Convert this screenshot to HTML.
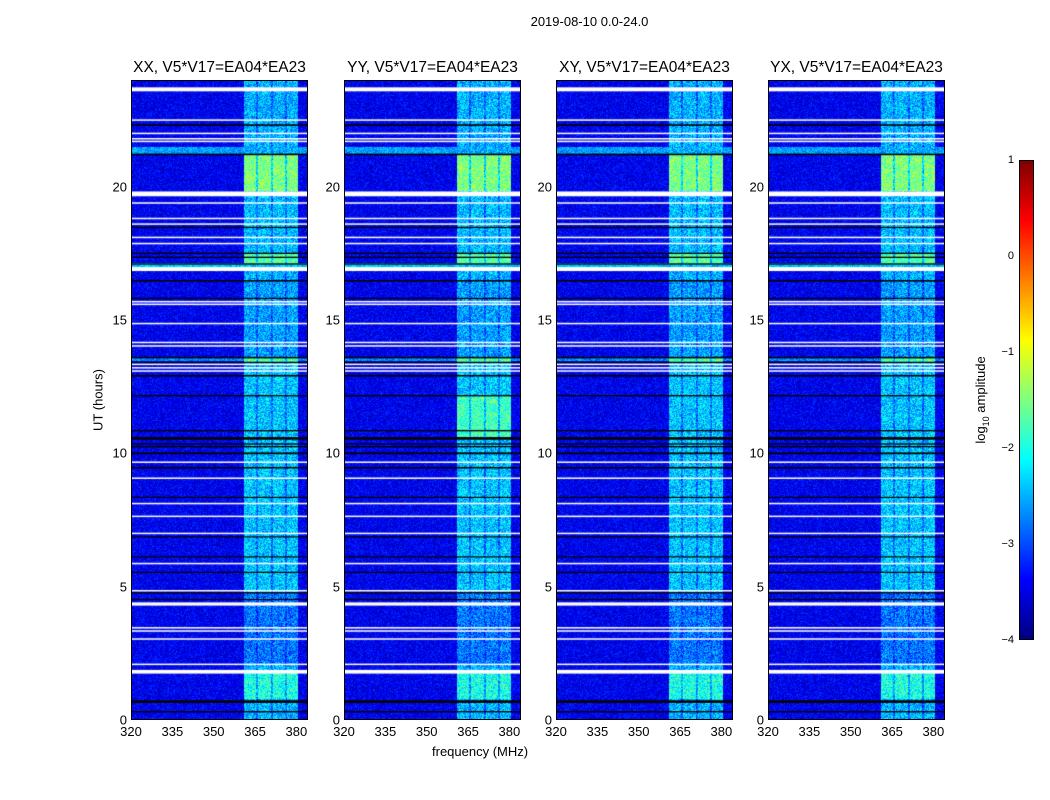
<!DOCTYPE html>
<html><head><meta charset="utf-8"><style>
body{margin:0;background:#fff;font-family:"Liberation Sans",sans-serif;}
#root{position:relative;width:1050px;height:800px;background:#fff;overflow:hidden;}
.t{position:absolute;white-space:nowrap;color:#000;}
canvas{position:absolute;}
.frame{position:absolute;border:1px solid #000;box-sizing:border-box;}
</style></head><body>
<div id="root">
<div class="t" style="left:0;width:1179px;top:14px;text-align:center;font-size:13px;">2019-08-10 0.0-24.0</div>
<div class="t" style="left:432px;top:744px;font-size:13px;">frequency (MHz)</div>
<div class="t" style="left:98px;top:400px;font-size:13px;transform:translate(-50%,-50%) rotate(-90deg);">UT (hours)</div>
<div class="t" style="left:982px;top:400px;font-size:13px;transform:translate(-50%,-50%) rotate(-90deg);">log<sub style="font-size:9px">10</sub> amplitude</div>
</div>
<script>
const panelTitles=["XX, V5*V17=EA04*EA23","YY, V5*V17=EA04*EA23","XY, V5*V17=EA04*EA23","YX, V5*V17=EA04*EA23"];
const xTicks=[320,335,350,365,380];
const yTicks=[0,5,10,15,20];
const cbTicks=[1,0,-1,-2,-3,-4];
const whiteLines=[[23.65,0.15],[22.5,0.05],[22.0,0.05],[21.8,0.05],[21.7,0.05],[19.73,0.18],[19.39,0.05],[18.81,0.05],[18.6,0.05],[18.1,0.05],[17.87,0.05],[16.91,0.15],[15.69,0.05],[15.59,0.05],[14.87,0.05],[14.16,0.05],[14.03,0.05],[13.34,0.05],[13.21,0.05],[13.09,0.05],[9.67,0.05],[9.07,0.05],[8.12,0.05],[7.64,0.05],[7.0,0.05],[5.87,0.05],[4.85,0.05],[4.35,0.12],[3.46,0.05],[3.34,0.05],[3.04,0.05],[2.09,0.05],[1.81,0.14]];
const blackLines=[[22.31,0.06],[21.21,0.06],[18.47,0.05],[17.5,0.05],[17.35,0.05],[17.1,0.05],[16.47,0.06],[15.81,0.05],[13.59,0.06],[13.41,0.05],[12.91,0.06],[12.16,0.05],[10.85,0.05],[10.56,0.1],[10.35,0.05],[10.25,0.05],[10.0,0.07],[9.46,0.06],[8.35,0.04],[6.87,0.04],[6.12,0.04],[5.54,0.04],[4.77,0.05],[4.52,0.04],[0.69,0.1],[0.31,0.05]];
const bandCols=[[361,365.4],[366.1,370.7],[371.5,375.9],[376.6,380.4]];
const bgLevel=-3.45;
const broadRows=[[21.22,21.5,-2.6],[16.95,17.15,-2.4],[13.45,13.58,-2.7]];
const bandLevels=[[21.2,24,-2.5],[19.85,21.2,-1.5],[17.5,19.7,-2.45],[17.1,17.5,-1.7],[13.6,16.5,-2.6],[13.4,13.6,-1.7],[4.8,13.3,-2.4],[2.1,4.8,-2.8],[0.8,1.8,-2.0],[0,0.8,-2.5]];
const yyExtra=[[10.6,12.2,-1.8]];
const panelLefts=[131,344,556,768];
const PT=80,PW=177,PH=640,F0=320,F1=384.2,H1=24;
const root=document.getElementById('root');
function fx(f){return (f-F0)/(F1-F0)*PW;}
function hy(h){return PH-h/H1*PH;}
function jet(v){v=Math.max(0,Math.min(1,v));
 const r=Math.max(0,Math.min(1,1.5-Math.abs(4*v-3))),g=Math.max(0,Math.min(1,1.5-Math.abs(4*v-2))),b=Math.max(0,Math.min(1,1.5-Math.abs(4*v-1)));
 return [r*255|0,g*255|0,b*255|0];}
function lv(l){return (l+4)/5;}
function hash(a,b){let h=(a*374761393+b*668265263)|0;h=(h^(h>>>13))*1274126177|0;return ((h^(h>>>16))>>>0)/4294967296;}
panelLefts.forEach((L,p)=>{
 const c=document.createElement('canvas');c.width=PW;c.height=PH;c.style.left=L+'px';c.style.top=PT+'px';
 
 
 root.appendChild(c);
 const ctx=c.getContext('2d');const img=ctx.createImageData(PW,PH);
 const levels=p===1?yyExtra.concat(bandLevels):bandLevels;
 for(let y=0;y<PH;y++){const h=(PH-y-0.5)/PH*H1;
  let band=-2.5;for(const s of levels){if(h>=s[0]&&h<s[1]){band=s[2];break;}}
  let broad=null;for(const s of broadRows){if(h>=s[0]&&h<s[1])broad=s[2];}
  for(let x=0;x<PW;x++){const f=F0+(x+0.5)/PW*(F1-F0);
   let v=broad!==null?broad:bgLevel;
   let noise=0.7;
   if(f>=361&&f<380.4){let inCol=false;for(const bc of bandCols)if(f>=bc[0]&&f<bc[1])inCol=true;
    const bl=inCol?band:(band*0.6+bgLevel*0.4);if(bl>v){v=bl;noise=1.0;}}
   v+= (hash(x+p*1000,y)-0.5)*noise;
   const col=jet(lv(v));const i=(y*PW+x)*4;img.data[i]=col[0];img.data[i+1]=col[1];img.data[i+2]=col[2];img.data[i+3]=255;}}
 ctx.putImageData(img,0,0);
 whiteLines.forEach(w=>{ctx.fillStyle='#fff';const y0=hy(w[0]+w[1]/2),y1=hy(w[0]-w[1]/2);ctx.fillRect(0,y0,PW,Math.max(1.5,y1-y0));});
 blackLines.forEach(w=>{ctx.fillStyle='#000';const y0=hy(w[0]+w[1]/2),y1=hy(w[0]-w[1]/2);ctx.fillRect(0,y0,PW,Math.max(1.2,y1-y0));});
 const fr=document.createElement('div');fr.className='frame';fr.style.cssText=`left:${L}px;top:${PT}px;width:${PW}px;height:${PH}px;`;
 
 
 root.appendChild(fr);
 const t=document.createElement('div');t.className='t';t.textContent=panelTitles[p];
 t.style.cssText=`left:${L+PW/2}px;top:59px;font-size:15.5px;transform:translateX(-50%);`;
 
 
 root.appendChild(t);
 xTicks.forEach(v=>{const lb=document.createElement('div');lb.className='t';lb.textContent=v;
  lb.style.cssText=`left:${L+fx(v)}px;top:724px;font-size:13px;transform:translateX(-50%);`;
  
  
  root.appendChild(lb);});
 yTicks.forEach(v=>{const lb=document.createElement('div');lb.className='t';lb.textContent=v;
  lb.style.cssText=`left:${L-4}px;top:${PT+hy(v)}px;font-size:13px;transform:translate(-100%,-50%);`;
  
  
  root.appendChild(lb);});
});
const CBL=1019,CBT=160,CBW=15,CBH=480,CB0=-4,CB1=1;
const cb=document.createElement('canvas');cb.width=CBW;cb.height=CBH;cb.style.left=CBL+'px';cb.style.top=CBT+'px';


root.appendChild(cb);
const cctx=cb.getContext('2d');
for(let y=0;y<CBH;y++){const col=jet(1-y/(CBH-1));cctx.fillStyle=`rgb(${col[0]},${col[1]},${col[2]})`;cctx.fillRect(0,y,CBW,1);}
const cbf=document.createElement('div');cbf.className='frame';cbf.style.cssText=`left:${CBL}px;top:${CBT}px;width:${CBW}px;height:${CBH}px;`;


root.appendChild(cbf);
cbTicks.forEach(v=>{const lb=document.createElement('div');lb.className='t';lb.textContent=v<0?'\u2212'+(-v):v;
 lb.style.cssText=`left:${CBL-5}px;top:${CBT+(CB1-v)/(CB1-CB0)*CBH}px;font-size:11px;transform:translate(-100%,-50%);`;
 
 
 root.appendChild(lb);});
</script>
</body></html>
